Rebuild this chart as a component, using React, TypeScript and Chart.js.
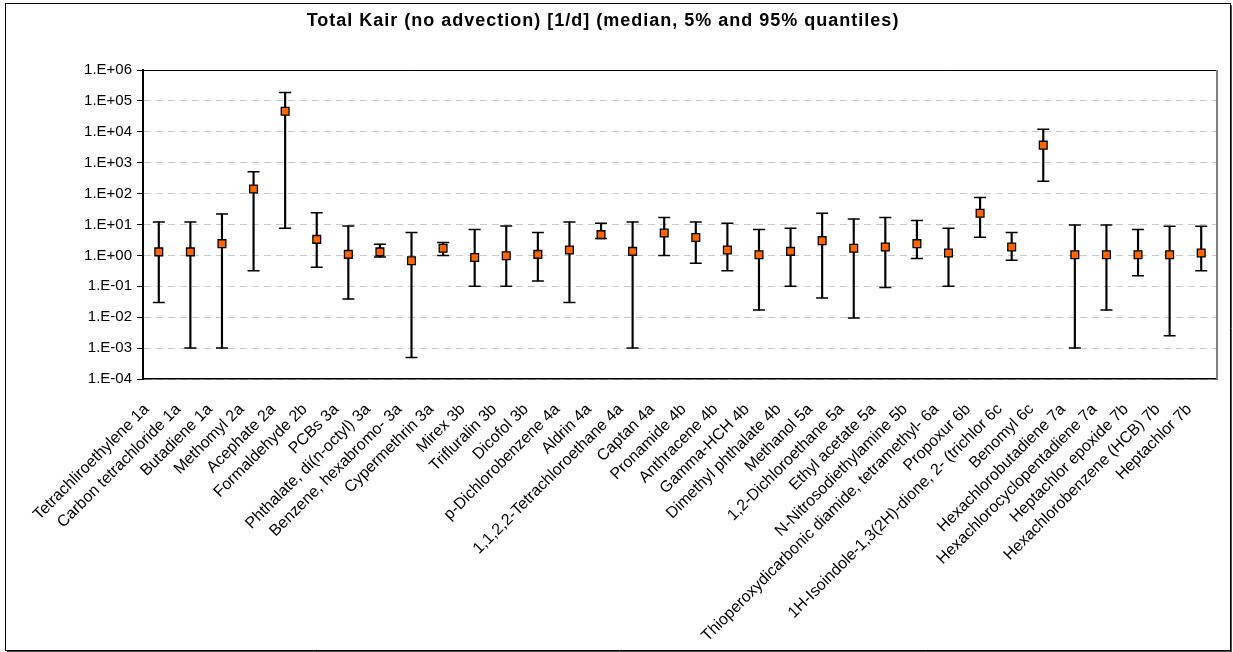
import { useEffect, useRef } from "react";
import { Chart, registerables } from "chart.js";

Chart.register(...registerables);

// Substances, in plotting order
const categories = [
  "Tetrachliroethylene 1a",
  "Carbon tetrachloride 1a",
  "Butadiene 1a",
  "Methomyl 2a",
  "Acephate 2a",
  "Formaldehyde 2b",
  "PCBs 3a",
  "Phthalate, di(n-octyl) 3a",
  "Benzene, hexabromo- 3a",
  "Cypermethrin 3a",
  "Mirex 3b",
  "Trifluralin 3b",
  "Dicofol 3b",
  "p-Dichlorobenzene 4a",
  "Aldrin 4a",
  "1,1,2,2-Tetrachloroethane 4a",
  "Captan 4a",
  "Pronamide 4b",
  "Anthracene 4b",
  "Gamma-HCH 4b",
  "Dimethyl phthalate 4b",
  "Methanol 5a",
  "1,2-Dichloroethane 5a",
  "Ethyl acetate 5a",
  "N-Nitrosodiethylamine 5b",
  "Thioperoxydicarbonic diamide, tetramethyl- 6a",
  "Propoxur 6b",
  "1H-Isoindole-1,3(2H)-dione, 2- (trichlor 6c",
  "Benomyl 6c",
  "Hexachlorobutadiene 7a",
  "Hexachlorocyclopentadiene 7a",
  "Heptachlor epoxide 7b",
  "Hexachlorobenzene (HCB) 7b",
  "Heptachlor 7b",
];

// Total Kair [1/d]: median
const medians = [
  1.3, 1.3, 2.4, 140, 46000, 3.3, 1.08, 1.3, 0.67, 1.7,
  0.86, 0.98, 1.08, 1.5, 4.7, 1.35, 5.3, 3.8, 1.5, 1.05,
  1.35, 3.0, 1.7, 1.86, 2.4, 1.19, 23, 1.86, 3700, 1.05,
  1.05, 1.05, 1.05, 1.19,
];

// 5% quantile
const quantile5 = [
  0.03, 0.001, 0.001, 0.32, 7.6, 0.41, 0.039, 0.88, 0.0005, 1.0,
  0.1, 0.1, 0.148, 0.03, 3.5, 0.001, 1.0, 0.56, 0.32, 0.017,
  0.1, 0.042, 0.0095, 0.092, 0.8, 0.1, 3.9, 0.7, 250, 0.001,
  0.017, 0.22, 0.0025, 0.32,
];

// 95% quantile
const quantile95 = [
  12, 12, 22, 510, 187000, 24, 9, 2.3, 5.5, 2.6,
  6.9, 8.9, 5.5, 12, 10.9, 12, 17, 12, 10.9, 6.9,
  7.6, 23, 15, 17, 13.5, 7.5, 75, 5.5, 12000, 9.6,
  9.6, 6.9, 8.7, 8.7,
];

const yTickValues = [1e-4, 1e-3, 1e-2, 1e-1, 1, 10, 100, 1e3, 1e4, 1e5, 1e6];
const yTickLabels = [
  "1.E-04", "1.E-03", "1.E-02", "1.E-01", "1.E+00", "1.E+01",
  "1.E+02", "1.E+03", "1.E+04", "1.E+05", "1.E+06",
];

const chartTitle = "Total Kair (no advection) [1/d] (median, 5% and 95% quantiles)";

const FONT = "'Liberation Sans', Arial, Helvetica, sans-serif";

// Plot-area edges, outer frame and the title
const framePlugin = {
  id: "frameAndTitle",
  beforeDraw(chart: any) {
    const { ctx, width, height } = chart;
    ctx.save();
    ctx.fillStyle = "#ffffff";
    ctx.fillRect(0, 0, width, height);
    ctx.restore();
  },
  afterDraw(chart: any) {
    const { ctx, chartArea: a } = chart;
    ctx.save();
    // top edge of the plot area
    ctx.strokeStyle = "#000000";
    ctx.lineWidth = 1;
    ctx.beginPath();
    ctx.moveTo(a.left, Math.round(a.top) + 0.5);
    ctx.lineTo(a.right, Math.round(a.top) + 0.5);
    ctx.stroke();
    // right edge of the plot area
    ctx.strokeStyle = "#7f7f7f";
    ctx.lineWidth = 2;
    ctx.beginPath();
    ctx.moveTo(Math.round(a.right), a.top);
    ctx.lineTo(Math.round(a.right), a.bottom);
    ctx.stroke();

    // outer frame with a slight shadow
    ctx.strokeStyle = "#000000";
    ctx.lineWidth = 1;
    ctx.strokeRect(5.5, 3.5, 1225, 647);
    ctx.strokeStyle = "#555555";
    ctx.beginPath();
    ctx.moveTo(1231.5, 5);
    ctx.lineTo(1231.5, 652);
    ctx.moveTo(7, 651.5);
    ctx.lineTo(1232, 651.5);
    ctx.stroke();

    // title
    ctx.font = `bold 18px ${FONT}`;
    (ctx as any).letterSpacing = "1px";
    ctx.fillStyle = "#000000";
    ctx.textAlign = "center";
    ctx.textBaseline = "middle";
    ctx.fillText(chartTitle, 603, 21);
    ctx.restore();
  },
};

export default function App() {
  const canvasRef = useRef<HTMLCanvasElement | null>(null);

  useEffect(() => {
    const canvas = canvasRef.current;
    if (!canvas) return;

    const chart = new Chart(canvas, {
      type: "bar",
      data: {
        labels: categories,
        datasets: [
          {
            type: "line",
            label: "median",
            data: medians,
            showLine: false,
            pointStyle: "rect",
            pointRadius: 5.5,
            pointHoverRadius: 5.5,
            pointBackgroundColor: "#FF6600",
            pointBorderColor: "#000000",
            pointBorderWidth: 1.3,
            order: 0,
          },
          {
            type: "line",
            label: "95% quantile",
            data: quantile95,
            showLine: false,
            pointStyle: "line",
            pointRadius: 6,
            pointHoverRadius: 6,
            pointBorderColor: "#000000",
            pointBorderWidth: 1.5,
            order: 1,
          },
          {
            type: "line",
            label: "5% quantile",
            data: quantile5,
            showLine: false,
            pointStyle: "line",
            pointRadius: 6,
            pointHoverRadius: 6,
            pointBorderColor: "#000000",
            pointBorderWidth: 1.5,
            order: 1,
          },
          {
            type: "bar",
            label: "5%-95% range",
            data: quantile5.map((lo, i) => [lo, quantile95[i]]),
            backgroundColor: "#000000",
            barThickness: 1.5,
            order: 2,
          },
        ],
      } as any,
      options: {
        responsive: false,
        animation: false,
        devicePixelRatio: 1,
        events: [],
        layout: { padding: { left: 0, top: 70, right: 16, bottom: 0 } },
        plugins: {
          legend: { display: false },
          tooltip: { enabled: false },
          title: { display: false },
        },
        scales: {
          x: {
            type: "category",
            offset: true,
            grid: { display: false },
            border: { display: true, color: "#000000", width: 1.5 },
            ticks: {
              autoSkip: false,
              maxRotation: 45,
              minRotation: 45,
              labelOffset: -12,
              padding: 13,
              color: "#000000",
              font: { family: FONT, size: 16 },
            },
            afterFit: (scale: any) => {
              scale.height = 273;
            },
          },
          y: {
            type: "logarithmic",
            min: 1e-4,
            max: 1e6,
            afterBuildTicks: (scale: any) => {
              scale.ticks = yTickValues.map((v) => ({ value: v }));
            },
            grid: {
              color: "#c8c8c8",
              lineWidth: 1,
              drawTicks: true,
              tickLength: 6,
              tickColor: "#000000",
              tickWidth: 1,
            },
            border: { display: true, color: "#000000", width: 2, dash: [7, 5] },
            ticks: {
              padding: 5,
              color: "#000000",
              font: { family: FONT, size: 15 },
              callback: (value: any) => {
                const idx = yTickValues.indexOf(Number(value));
                return idx >= 0 ? yTickLabels[idx] : "";
              },
            },
            afterFit: (scale: any) => {
              scale.width = 143;
            },
          },
        },
      } as any,
      plugins: [framePlugin],
    });

    return () => {
      chart.destroy();
    };
  }, []);

  return (
    <div style={{ position: "absolute", left: 0, top: 0, width: 1233, height: 652 }}>
      <canvas ref={canvasRef} width={1233} height={652} style={{ display: "block" }} />
    </div>
  );
}
